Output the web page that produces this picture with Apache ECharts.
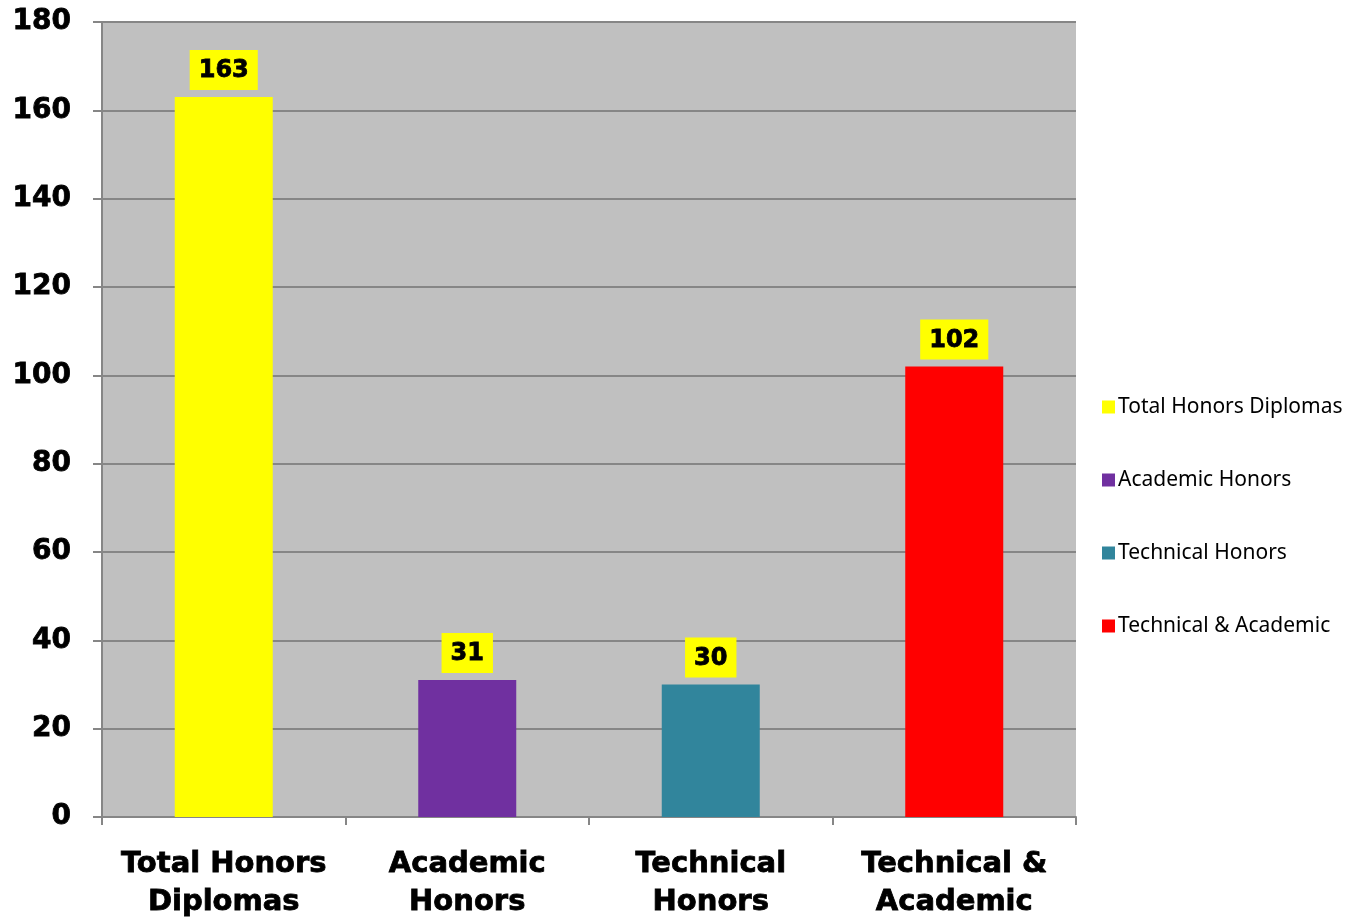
<!DOCTYPE html>
<html>
<head>
  <meta charset="utf-8" />
  <title>Honors Diplomas</title>
  <style>
    html, body { margin: 0; padding: 0; background: #ffffff; }
    #chart { width: 1352px; height: 921px; }
  </style>
</head>
<body>
  <div id="chart"></div>
  <script src="https://cdn.jsdelivr.net/npm/echarts@6/dist/echarts.min.js"></script>
  <script>
    // categories and values
    const categories = ['Total Honors\nDiplomas', 'Academic\nHonors', 'Technical\nHonors', 'Technical &\nAcademic']
    const seriesNames = ['Total Honors Diplomas', 'Academic Honors', 'Technical Honors', 'Technical & Academic']
    const values = [163, 31, 30, 102]
    const colors = ['#FFFF00', '#7030A0', '#31859C', '#FF0000']
    const yTicks = [0, 20, 40, 60, 80, 100, 120, 140, 160, 180]

    let chart = echarts.init(document.getElementById('chart'))

    // heavier bold text, closer to the original Tahoma Bold
    let boldText = {
      color: '#000',
      fontFamily: 'DejaVu Sans',
      fontWeight: 'bold',
      textBorderColor: '#000',
      textBorderWidth: 0.8,
    }

    // one series per category so each one gets a legend entry
    let series = seriesNames.map((name, i) => {
      let data = values.map((v, j) => (j === i ? v : '-'))
      return {
        name,
        type: 'bar',
        stack: 'all',
        barWidth: 98,
        itemStyle: { color: colors[i] },
        label: {
          show: true,
          position: 'top',
          distance: 7,
          ...boldText,
          fontSize: 24,
          backgroundColor: '#FFFF00',
          padding: [9, 9, 7, 9],
        },
        data,
      }
    })

    let option = {
      animation: false,
      color: colors,
      grid: {
        left: 102,
        right: 276,
        top: 22,
        bottom: 98,
        show: true,
        backgroundColor: '#C0C0C0',
        borderWidth: 0,
      },
      legend: {
        orient: 'vertical',
        left: 1097,
        top: 390,
        itemWidth: 13,
        itemHeight: 13,
        itemGap: 49,
        icon: 'rect',
        data: seriesNames,
        textStyle: {
          fontFamily: 'Noto Sans',
          fontSize: 21,
          color: '#000',
          lineHeight: 24,
          padding: [0, 0, 0, -2],
        },
      },
      xAxis: {
        type: 'category',
        data: categories,
        axisLine: { lineStyle: { color: '#868686', width: 2 } },
        axisTick: { show: true, interval: 0, length: 8, lineStyle: { color: '#868686', width: 2 } },
        axisLabel: {
          interval: 0,
          margin: 28,
          ...boldText,
          fontSize: 29,
          lineHeight: 38,
        },
      },
      yAxis: {
        type: 'value',
        min: yTicks[0],
        max: yTicks[yTicks.length - 1],
        interval: 20,
        axisLine: { show: true, lineStyle: { color: '#868686', width: 2 } },
        axisTick: { show: true, length: 9, lineStyle: { color: '#868686', width: 2 } },
        splitLine: { lineStyle: { color: '#868686', width: 2 } },
        axisLabel: {
          margin: 31,
          ...boldText,
          fontSize: 28,
        },
      },
      series,
    }

    chart.setOption(option)
  </script>
</body>
</html>
